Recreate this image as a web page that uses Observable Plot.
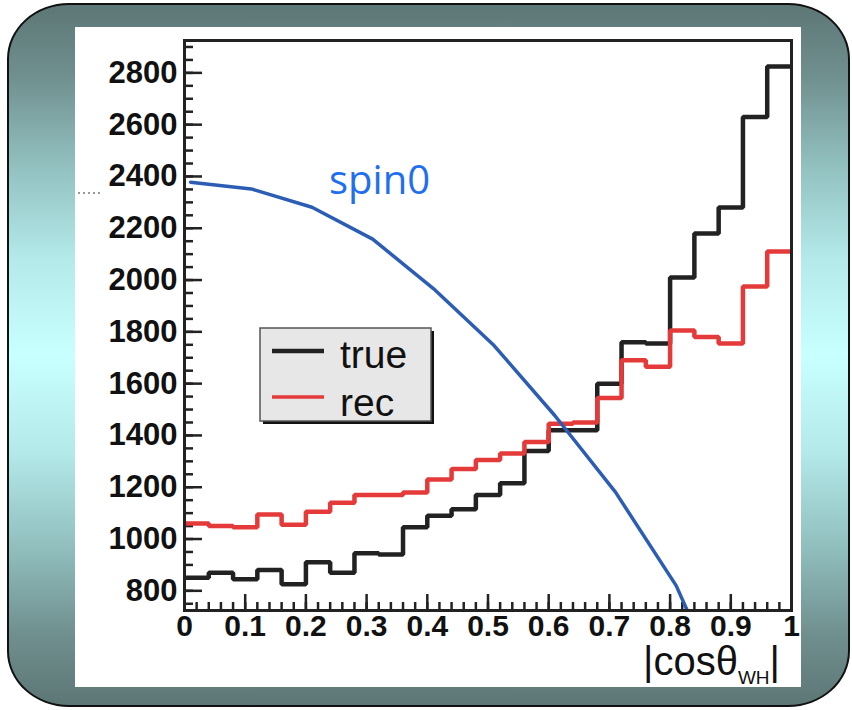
<!DOCTYPE html>
<html>
<head>
<meta charset="utf-8">
<script src="https://cdn.jsdelivr.net/npm/d3@7"></script>
<script src="https://cdn.jsdelivr.net/npm/@observablehq/plot@0.6"></script>
<style>
  body { margin: 0; background: #fff; }
  #wrap { position: relative; width: 852px; height: 710px; overflow: hidden; }
  #slide {
    position: absolute; left: 7px; top: 3px; width: 839px; height: 700px;
    border: 2px solid #111; border-radius: 62px / 56px;
    background: linear-gradient(to bottom, #5d7676 0%, #6f8f8e 10%, #8fbdbc 22%, #b3e9e9 36%, #c8ffff 50%, #b3e9e9 64%, #8fbdbc 78%, #6f8f8e 90%, #5d7676 100%);
  }
  #panel { position: absolute; left: 75px; top: 27px; width: 726px; height: 660px; background: #fff; }
  #chart, #overlay { position: absolute; left: 0; top: 0; }
  #overlay { pointer-events: none; }
</style>
</head>
<body>
<div id="wrap">
  <div id="slide"></div>
  <div id="panel"></div>
  <div id="chart"></div>
  <svg id="overlay" width="852" height="710" font-family="Liberation Sans, Arial, sans-serif">
    <!-- curve annotation -->
    <text x="329" y="194" font-family="Open Sans, Noto Sans, sans-serif" font-size="40" fill="#1f6ff0">spin0</text>
    <!-- legend -->
    <rect x="263" y="331" width="171" height="93" fill="#111"></rect>
    <rect x="260" y="328" width="171" height="93" fill="#e7e7e7" stroke="#555" stroke-width="1.5"></rect>
    <line x1="272" x2="324" y1="351" y2="351" stroke="#222" stroke-width="4.5"></line>
    <line x1="272" x2="324" y1="397" y2="397" stroke="#e53a3a" stroke-width="3.5"></line>
    <text x="340" y="368" font-size="39" fill="#111">true</text>
    <text x="340" y="416" font-size="39" fill="#111">rec</text>
    <!-- x axis title -->
    <text x="643" y="675" font-size="40" fill="#111">|cosθ<tspan dy="9" font-size="19">WH</tspan><tspan dy="-9" font-size="40">|</tspan></text>
    <line x1="78" x2="102" y1="193" y2="193" stroke="#333" stroke-width="1" stroke-dasharray="2,3"></line>
  </svg>
</div>
<script>
// |cos theta_WH| histograms, 25 bins of width 0.04
const binStart = [0, 0.04, 0.08, 0.12, 0.16, 0.2, 0.24, 0.28, 0.32, 0.36, 0.4, 0.44, 0.48,
                  0.52, 0.56, 0.6, 0.64, 0.68, 0.72, 0.76, 0.8, 0.84, 0.88, 0.92, 0.96];
const trueCounts = [850, 870, 845, 880, 825, 910, 870, 945, 940, 1045, 1090, 1115, 1170,
                    1215, 1340, 1420, 1420, 1600, 1760, 1755, 2010, 2180, 2280, 2630, 2825];
const recCounts = [1060, 1050, 1045, 1095, 1055, 1105, 1140, 1170, 1170, 1180, 1230, 1270, 1305,
                   1330, 1375, 1445, 1450, 1545, 1690, 1665, 1805, 1780, 1755, 1975, 2110];

// spin-0 expectation curve
const spinX = [0.01, 0.11, 0.21, 0.31, 0.41, 0.51, 0.61, 0.71, 0.81, 0.83];
const spinY = [2378, 2352, 2281, 2158, 1967, 1747, 1477, 1181, 820, 715];

// axis ticks
const xMajor = [0, 0.1, 0.2, 0.3, 0.4, 0.5, 0.6, 0.7, 0.8, 0.9, 1];
const xMinor = d3.range(0, 51).map(i => i / 50);
const yMajor = [800, 1000, 1200, 1400, 1600, 1800, 2000, 2200, 2400, 2600, 2800];
const yMinor = d3.range(750, 2901, 50);

const steps = counts => [
  ...binStart.map((x, i) => ({x, y: counts[i]})),
  {x: 1, y: counts[counts.length - 1]}
];
const spin = spinX.map((x, i) => ({x, y: spinY[i]}));

const W = 852, H = 710, mL = 184, mR = 61, mT = 40, mB = 100;
const fw = W - mL - mR, fh = H - mT - mB;
const ink = "#222";

const chart = Plot.plot({
  width: W, height: H,
  marginLeft: mL, marginRight: mR, marginTop: mT, marginBottom: mB,
  x: {domain: [0, 1], label: null},
  y: {domain: [724, 2925], label: null},
  style: {background: "transparent", overflow: "visible", fontFamily: "Liberation Sans, Arial, sans-serif", color: "#111"},
  marks: [
    Plot.tickY(yMinor, {y: d => d, insetRight: fw - 9, stroke: ink, strokeWidth: 2.5}),
    Plot.tickY(yMajor, {y: d => d, insetRight: fw - 18, stroke: ink, strokeWidth: 2.5}),
    Plot.tickX(xMinor, {x: d => d, insetTop: fh - 8, stroke: ink, strokeWidth: 2.5}),
    Plot.tickX(xMajor, {x: d => d, insetTop: fh - 16, stroke: ink, strokeWidth: 2.5}),
    Plot.axisY({ticks: yMajor, tickSize: 0, tickPadding: 7, fontSize: 31, fontWeight: "bold", tickFormat: d => String(d), label: null}),
    Plot.axisX({ticks: xMajor, tickSize: 0, tickPadding: 4, fontSize: 30, fontWeight: "bold", tickFormat: d => String(d), label: null}),
    Plot.line(steps(trueCounts), {x: "x", y: "y", curve: "step-after", stroke: ink, strokeWidth: 4.5, strokeLinejoin: "miter", strokeLinecap: "butt"}),
    Plot.line(steps(recCounts), {x: "x", y: "y", curve: "step-after", stroke: "#e53a3a", strokeWidth: 4.5, strokeLinejoin: "miter", strokeLinecap: "butt"}),
    Plot.line(spin, {x: "x", y: "y", curve: "linear", stroke: "#2c5db5", strokeWidth: 3.5, clip: true}),
    Plot.frame({stroke: ink, strokeWidth: 3})
  ]
});
document.getElementById("chart").appendChild(chart);
</script>
</body>
</html>
